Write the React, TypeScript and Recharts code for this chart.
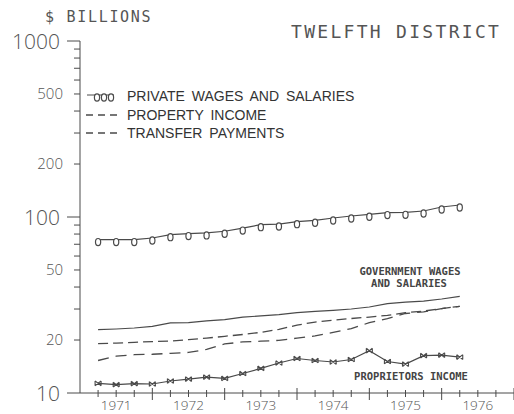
import React from "react";
import { LineChart, Line, XAxis, YAxis } from "recharts";

// quarterly observations, 1971 I .. 1976 I
const QUARTERS = [
  "1971 I", "1971 II", "1971 III", "1971 IV",
  "1972 I", "1972 II", "1972 III", "1972 IV",
  "1973 I", "1973 II", "1973 III", "1973 IV",
  "1974 I", "1974 II", "1974 III", "1974 IV",
  "1975 I", "1975 II", "1975 III", "1975 IV",
  "1976 I",
];

const PRIVATE_WAGES = [74.4, 74.4, 74.4, 76.0, 79.4, 80.5, 81.2, 83.0, 86.5, 90.5, 91.2, 94.1, 95.8, 98.7, 101.3, 103.6, 105.9, 106.3, 108.2, 114, 117];
const GOVERNMENT_WAGES = [22.9, 23.1, 23.4, 23.9, 25.0, 25.1, 25.7, 26.1, 27.0, 27.4, 27.9, 28.6, 29.1, 29.5, 30.0, 30.8, 32.2, 32.8, 33.3, 34.2, 35.4];
const PROPERTY_INCOME = [19.1, 19.2, 19.4, 19.6, 19.7, 20.1, 20.5, 21.0, 21.5, 22.1, 23.0, 24.3, 25.3, 25.9, 26.5, 27.0, 27.6, 28.6, 29.2, 30.2, 31.1];
const TRANSFER_PAYMENTS = [15.3, 16.2, 16.5, 16.6, 16.8, 17.0, 17.7, 19.0, 19.5, 19.7, 19.9, 20.5, 21.1, 22.1, 23.2, 25.1, 26.5, 28.3, 28.9, 30.2, 31.1];
const PROPRIETORS_INCOME = [11.35, 11.16, 11.3, 11.25, 11.7, 12.0, 12.3, 12.1, 12.9, 13.8, 14.8, 15.7, 15.3, 15.0, 15.5, 17.4, 15.1, 14.6, 16.3, 16.4, 16.0];

const YEARS = ["1971", "1972", "1973", "1974", "1975", "1976"];
const Y_TICKS = [10, 20, 30, 40, 50, 60, 70, 80, 90, 100, 200, 300, 400, 500, 600, 700, 800, 900, 1000];
const Y_LABELS = [10, 20, 50, 100, 200, 500, 1000];

// x position counts quarters from the start of 1971 (point i sits at end of quarter i)
const data = QUARTERS.map((q, i) => ({
  q,
  t: i + 1,
  privateWages: PRIVATE_WAGES[i],
  govWages: GOVERNMENT_WAGES[i],
  property: PROPERTY_INCOME[i],
  transfer: TRANSFER_PAYMENTS[i],
  proprietors: PROPRIETORS_INCOME[i],
}));
const X_TICKS = Array.from({ length: YEARS.length * 4 }, (_, i) => i + 1);

const W = 514;
const H = 414;
const PLOT_LEFT = 80;
const AXIS_Y = 393;
const INK = "#4a4a4a";
const PLOTTER = "'Open Sans', 'DejaVu Sans', sans-serif";

function OMarker({ cx, cy }: any) {
  if (cx == null || cy == null) return null;
  return (
    <ellipse cx={cx} cy={cy + 2.5} rx={2.6} ry={3.6} fill="#fff" stroke={INK} strokeWidth={1.2} />
  );
}

function XMarker({ cx, cy }: any) {
  if (cx == null || cy == null) return null;
  const s = 3;
  const h = 2.4;
  return (
    <path
      d={`M${cx - s},${cy - h}L${cx + s},${cy + h}M${cx + s},${cy - h}L${cx - s},${cy + h}M${cx - s},${cy - h}V${cy + h}M${cx + s},${cy - h}V${cy + h}`}
      stroke={INK}
      strokeWidth={1.1}
      fill="none"
    />
  );
}

function YTick({ y, payload }: any) {
  const v = payload.value;
  const decade = v === 10 || v === 100 || v === 1000;
  const labelled = Y_LABELS.includes(v);
  return (
    <g>
      <line x1={PLOT_LEFT - (decade ? 13 : 6)} x2={PLOT_LEFT} y1={y} y2={y} stroke={INK} strokeWidth={1} />
      {labelled && (
        <text
          x={decade ? 60 : 63}
          y={y}
          dy="0.36em"
          textAnchor="end"
          fontFamily={PLOTTER}
          fontWeight={300}
          fontSize={decade ? 21 : 15}
          fill="#555"
        >
          {v}
        </text>
      )}
    </g>
  );
}

function XTick({ x, payload }: any) {
  const v = payload.value;
  const major = v % 4 === 0;
  const label = v % 4 === 2 ? YEARS[(v - 2) / 4] : null;
  return (
    <g>
      <line x1={x} x2={x} y1={AXIS_Y - (major ? 5 : 3)} y2={AXIS_Y + (major ? 7 : 4)} stroke={INK} strokeWidth={1} />
      {label && (
        <text x={x} y={AXIS_Y + 12.5} dy="0.36em" textAnchor="middle" fontFamily={PLOTTER} fontWeight={300} fontSize={13.5} fill="#555">
          {label}
        </text>
      )}
    </g>
  );
}

export default function App() {
  const legendFont = "'Liberation Sans', Arial, sans-serif";
  const noteFont = "'DejaVu Sans Mono', monospace";
  return (
    <div style={{ position: "absolute", left: 0, top: 0, width: W, height: H, background: "#fff" }}>
      <LineChart width={W} height={H} data={data} margin={{ top: 41, right: 0, bottom: 0, left: 0 }}>
        <XAxis
          type="number"
          dataKey="t"
          domain={[0, 24]}
          ticks={X_TICKS}
          interval={0}
          height={21}
          axisLine={{ stroke: INK }}
          tickLine={false}
          tick={<XTick />}
        />
        <YAxis
          scale="log"
          domain={[10, 1000]}
          allowDataOverflow
          ticks={Y_TICKS}
          interval={0}
          width={PLOT_LEFT}
          axisLine={{ stroke: INK }}
          tickLine={false}
          tick={<YTick />}
        />
        <Line dataKey="privateWages" stroke={INK} strokeWidth={1.2} dot={<OMarker />} isAnimationActive={false} />
        <Line dataKey="govWages" stroke={INK} strokeWidth={1.2} dot={false} isAnimationActive={false} />
        <Line dataKey="property" stroke={INK} strokeWidth={1.3} strokeDasharray="10 5" dot={false} isAnimationActive={false} />
        <Line dataKey="transfer" stroke={INK} strokeWidth={1.3} strokeDasharray="11 7" dot={false} isAnimationActive={false} />
        <Line dataKey="proprietors" stroke={INK} strokeWidth={1.2} dot={<XMarker />} isAnimationActive={false} />
      </LineChart>
      <svg width={W} height={H} style={{ position: "absolute", left: 0, top: 0, pointerEvents: "none" }}>
        <text x={45} y={17} dy="0.36em" fontFamily={noteFont} fontSize={15} letterSpacing={1.7} fill="#555">
          $ BILLIONS
        </text>
        <text x={291} y={32} dy="0.36em" fontFamily={noteFont} fontSize={18} letterSpacing={2.3} fill="#555">
          TWELFTH DISTRICT
        </text>

        <line x1={87} x2={114} y1={95} y2={95} stroke={INK} strokeWidth={1} />
        {[97, 104, 111].map((cx) => (
          <OMarker key={cx} cx={cx} cy={95} />
        ))}
        <text x={127} y={96} dy="0.36em" fontFamily={legendFont} fontSize={14} wordSpacing={3} fill="#333">
          PRIVATE WAGES AND SALARIES
        </text>
        <line x1={86} x2={117} y1={115} y2={115} stroke={INK} strokeWidth={1.3} strokeDasharray="7 5" />
        <text x={127} y={115} dy="0.36em" fontFamily={legendFont} fontSize={14} wordSpacing={3} fill="#333">
          PROPERTY INCOME
        </text>
        <line x1={86} x2={117} y1={133} y2={133} stroke={INK} strokeWidth={1.3} strokeDasharray="7 5" />
        <text x={127} y={133} dy="0.36em" fontFamily={legendFont} fontSize={14} wordSpacing={3} fill="#333">
          TRANSFER PAYMENTS
        </text>

        <text x={410} y={271} dy="0.36em" textAnchor="middle" fontFamily={noteFont} fontWeight="bold" fontSize={10.5} fill="#444">
          GOVERNMENT WAGES
        </text>
        <text x={409} y={283} dy="0.36em" textAnchor="middle" fontFamily={noteFont} fontWeight="bold" fontSize={10.5} fill="#444">
          AND SALARIES
        </text>
        <text x={411} y={376} dy="0.36em" textAnchor="middle" fontFamily={noteFont} fontWeight="bold" fontSize={10.5} fill="#444">
          PROPRIETORS INCOME
        </text>
      </svg>
    </div>
  );
}
